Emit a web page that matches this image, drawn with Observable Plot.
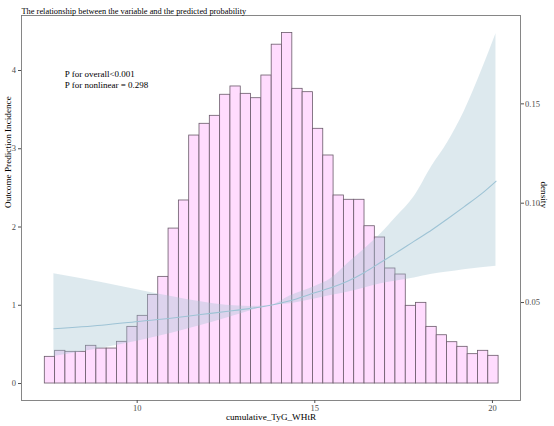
<!DOCTYPE html>
<html><head><meta charset="utf-8">
<script src="https://cdn.jsdelivr.net/npm/d3@7"></script>
<script src="https://cdn.jsdelivr.net/npm/@observablehq/plot@0.6"></script>
<style>body{margin:0;background:#fff}</style>
</head><body><div id="chart"></div>
<script>
const titleText = "The relationship between the variable and the predicted probability";
const xLabel = "cumulative_TyG_WHtR";
const yLabel = "Outcome Prediction Incidence";
const y2Label = "density";
const annotation = ["P for overall<0.001", "P for nonlinear = 0.298"];

// histogram (heights in left-axis units)
const binStart = 7.40;
const binWidth = 0.2903;
const binHeights = [0.341, 0.418, 0.405, 0.405, 0.482, 0.447, 0.447, 0.533, 0.724, 0.865,
  1.133, 1.363, 1.98, 2.339, 3.169, 3.319, 3.421, 3.69, 3.796, 3.702,
  3.646, 3.936, 4.33, 4.48, 3.766, 3.723, 3.255, 2.914, 2.403, 2.348,
  2.348, 2.01, 1.866, 1.47, 1.393, 0.993, 1.031, 0.724, 0.617, 0.528,
  0.469, 0.375, 0.418, 0.354];

// fitted curve and confidence band
const curveX =   [7.656, 9.0, 10.1, 11.0, 11.79, 12.5, 13.2, 13.76, 14.3, 15.0, 15.45, 15.92, 16.4, 16.86, 17.3, 17.8, 18.3, 18.74, 19.2, 19.68, 20.10];
const curveFit = [0.70, 0.745, 0.796, 0.838, 0.882, 0.92, 0.96, 1.0, 1.057, 1.16, 1.223, 1.307, 1.42, 1.55, 1.673, 1.82, 1.965, 2.106, 2.258, 2.42, 2.585];
const curveLow = [0.345, 0.45, 0.55, 0.645, 0.741, 0.835, 0.93, 1.0, 1.02, 1.08, 1.125, 1.167, 1.22, 1.274, 1.31, 1.35, 1.395, 1.425, 1.455, 1.48, 1.50];
const curveHigh = [1.402, 1.29, 1.19, 1.11, 1.045, 1.0, 0.985, 1.0, 1.12, 1.24, 1.338, 1.53, 1.72, 1.913, 2.13, 2.39, 2.78, 3.08, 3.47, 3.98, 4.47];

const xTicks = [10, 15, 20];
const yTicks = [0, 1, 2, 3, 4];
const densityTicks = [0.05, 0.10, 0.15];
// secondary axis: density = d0 + left / k
const d0 = 0.00924, k = 25.39;
const toLeft = d => (d - d0) * k;
const fromLeft = v => v / k + d0;

const bins = binHeights.map((h, i) => ({x1: binStart + i * binWidth, x2: binStart + (i + 1) * binWidth, h}));
const band = curveX.map((x, i) => ({x, fit: curveFit[i], lo: curveLow[i], hi: curveHigh[i]}));

const serif = "Liberation Serif, Times New Roman, serif";
const tickColor = "#4d4d4d";
const chart = Plot.plot({
  width: 554, height: 426,
  marginLeft: 21, marginRight: 34, marginTop: 15, marginBottom: 26,
  x: {domain: [6.744, 20.79]},
  y: {domain: [-0.217, 4.703]},
  style: {fontFamily: serif, background: "white", overflow: "visible", color: "black"},
  marks: [
    Plot.rect(bins, {x1: "x1", x2: "x2", y1: 0, y2: "h", fill: "#ffdcfe", stroke: "#6a5a6a", strokeWidth: 0.8, inset: 0}),
    Plot.areaY(band, {x: "x", y1: "lo", y2: "hi", fill: "#a3c4d1", fillOpacity: 0.37, curve: "monotone-x"}),
    Plot.line(band, {x: "x", y: "fit", stroke: "#9ec3d5", strokeWidth: 1.1, curve: "monotone-x"}),
    Plot.frame({stroke: "#7a7a7a", strokeWidth: 0.9}),
    Plot.axisX(xTicks, {tickSize: 3, tickPadding: 1, fontSize: 8.5, color: tickColor, label: null, tickFormat: d => String(d)}),
    Plot.axisY(yTicks, {anchor: "left", tickSize: 3, tickPadding: 2.5, fontSize: 8.5, color: tickColor, label: null, tickFormat: d => String(d)}),
    Plot.axisY(densityTicks.map(toLeft), {anchor: "right", tickSize: 3, tickPadding: 1.5, fontSize: 8.5, color: tickColor, label: null, tickFormat: v => fromLeft(v).toFixed(2)}),
    Plot.text([xLabel], {frameAnchor: "bottom", dy: 19.5, fontSize: 9.2, fill: "black"}),
    Plot.text([yLabel], {frameAnchor: "left", dx: -13.7, rotate: -90, fontSize: 9.2, fill: "black"}),
    Plot.text([y2Label], {frameAnchor: "right", dx: 23.7, rotate: 90, fontSize: 9.2, fill: "black"}),
    Plot.text([titleText], {frameAnchor: "top-left", textAnchor: "start", dy: -7.5, fontSize: 8.4, fill: "black"}),
    Plot.text([annotation.join("\n")], {frameAnchor: "top-left", textAnchor: "start", lineAnchor: "top", dx: 43.3, dy: 53, lineHeight: 1.26, fontSize: 9, fill: "black"})
  ]
});
document.getElementById("chart").appendChild(chart);
</script>
</body></html>
